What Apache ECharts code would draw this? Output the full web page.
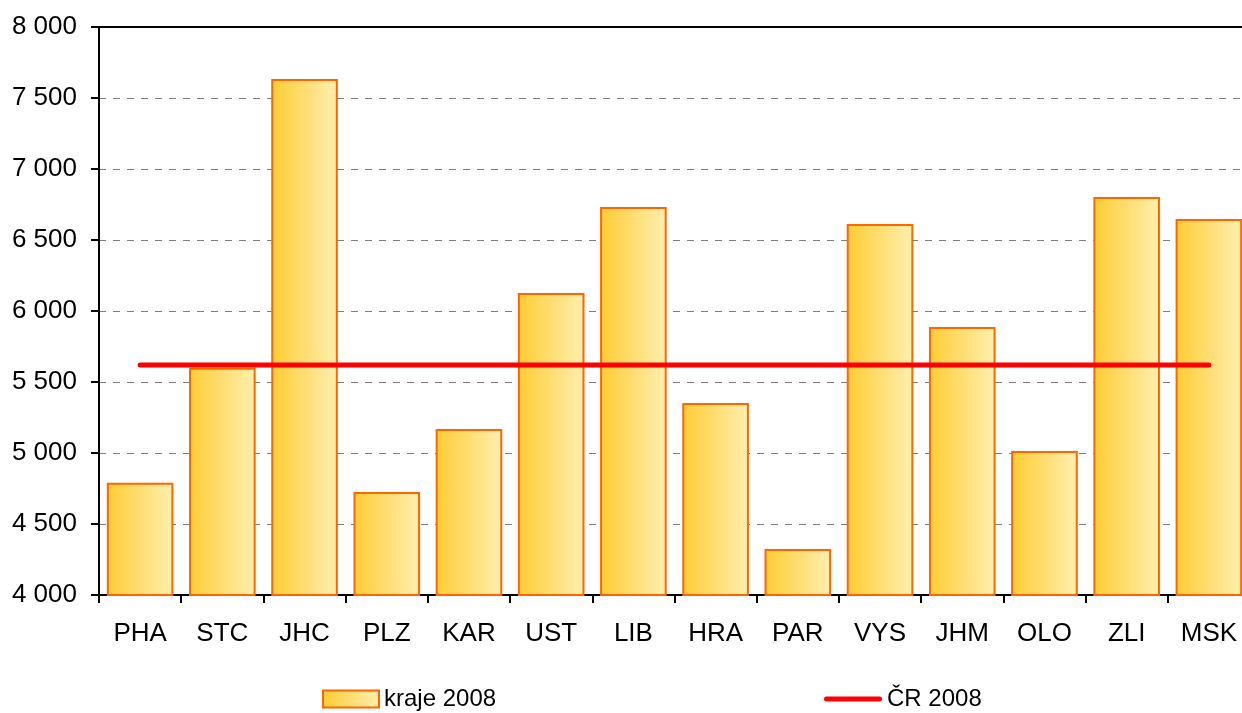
<!DOCTYPE html>
<html>
<head>
<meta charset="utf-8">
<script src="https://cdn.jsdelivr.net/npm/echarts@6/dist/echarts.min.js"></script>
<style>html,body{margin:0;padding:0;background:#fff;}#c{width:1242px;height:713px;}</style>
</head>
<body>
<div id="c"></div>
<script>
const categories = ['PHA','STC','JHC','PLZ','KAR','UST','LIB','HRA','PAR','VYS','JHM','OLO','ZLI','MSK'];
const kraje2008 = [4790, 5600, 7634, 4725, 5169, 6127, 6732, 5352, 4324, 6613, 5887, 5014, 6803, 6648];
const cr2008 = [5620, 5620, 5620, 5620, 5620, 5620, 5620, 5620, 5620, 5620, 5620, 5620, 5620, 5620];
const yTicks = {min: 4000, max: 8000, interval: 500};

const font = 'Liberation Sans, Arial, sans-serif';
const barFill = new echarts.graphic.LinearGradient(0, 0, 1, 0, [
  {offset: 0, color: '#FFCC33'},
  {offset: 1, color: '#FFEFB0'}
]);
const legendText = {fontFamily: font, fontSize: 24, color: '#000', padding: [0,0,0,0]};

const chart = echarts.init(document.getElementById('c'), null, {renderer: 'canvas'});
chart.setOption({
  animation: false,
  backgroundColor: '#fff',
  grid: {left: 99, top: 27, width: 1151, bottom: 118, containLabel: false, outerBoundsMode: 'none'},
  legend: [{
    top: 682,
    left: 317,
    itemWidth: 56,
    itemHeight: 17,
    itemGap: 5,
    textStyle: legendText,
    data: [{name: 'kraje 2008', icon: 'rect', itemStyle: {color: barFill, borderColor: '#FF6600', borderWidth: 2}}]
  }, {
    top: 682,
    left: 819,
    itemWidth: 58,
    itemHeight: 17,
    textStyle: legendText,
    data: [{name: 'ČR 2008',
      icon: 'path://M2.5,0 L55.5,0 A2.5,2.5 0 0 1 55.5,5 L2.5,5 A2.5,2.5 0 0 1 2.5,0 Z',
      itemStyle: {color: '#FF0000'}}]
  }],
  xAxis: [{
    type: 'category',
    data: categories,
    axisLine: {lineStyle: {color: '#000', width: 2}},
    axisTick: {show: true, length: 8, lineStyle: {color: '#000', width: 2}},
    axisLabel: {fontFamily: font, fontSize: 26, color: '#000', margin: 26}
  }, {
    type: 'category',
    position: 'top',
    data: categories,
    axisLine: {lineStyle: {color: '#000', width: 2}},
    axisTick: {show: false},
    axisLabel: {show: false}
  }],
  yAxis: {
    type: 'value',
    min: yTicks.min, max: yTicks.max, interval: yTicks.interval,
    axisLine: {show: true, lineStyle: {color: '#000', width: 2}},
    axisTick: {show: true, length: 8, lineStyle: {color: '#000', width: 2}},
    axisLabel: {
      fontFamily: font, fontSize: 26, color: '#000', margin: 22,
      formatter: v => String(v).replace(/\B(?=(\d{3})+(?!\d))/g, ' ')
    },
    splitLine: {show: true, lineStyle: {color: '#808080', type: [7, 7], width: 1}}
  },
  series: [{
    name: 'kraje 2008',
    type: 'bar',
    data: kraje2008,
    barCategoryGap: '19%',
    itemStyle: {color: barFill, borderColor: '#FF6600', borderWidth: 2}
  }, {
    name: 'ČR 2008',
    type: 'line',
    data: cr2008,
    symbol: 'none',
    lineStyle: {color: '#FF0000', width: 5, cap: 'round'},
    itemStyle: {color: '#FF0000'},
    z: 5
  }]
});
</script>
</body>
</html>
